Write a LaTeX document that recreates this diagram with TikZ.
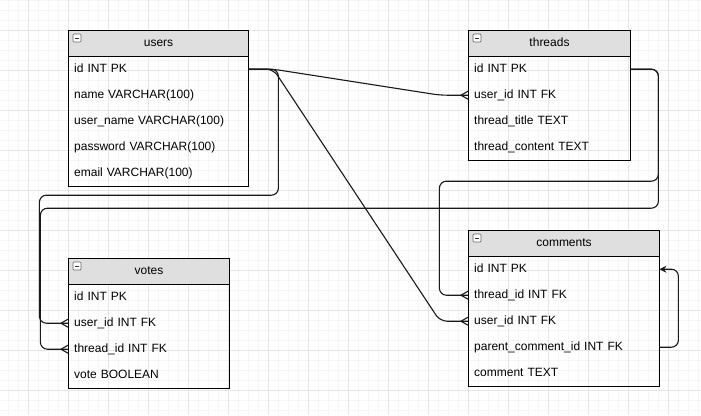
\documentclass[tikz,border=0pt]{standalone}
\usepackage{fontspec}
\setmainfont{Liberation Sans}
\usetikzlibrary{calc,arrows.meta}
\definecolor{hdrgray}{HTML}{DFDFDF}
\definecolor{gridminor}{HTML}{F5F5F5}
\definecolor{gridmajor}{HTML}{E6E6E6}
\tikzset{
  x=1pt, y=-1pt,
  tfont/.style={font=\fontsize{12}{14}\selectfont},
  hdr/.style={tfont, draw=black, line width=1pt, fill=hdrgray, minimum height=26pt,
    inner sep=0pt, anchor=north west, text height=9pt, text depth=3pt},
  rowbox/.style={tfont, minimum height=26pt, inner xsep=6pt, inner ysep=0pt,
    anchor=north west, align=left, text height=9pt, text depth=3pt},
  usersrow/.style={rowbox, text width=168pt},
  threadsrow/.style={rowbox, text width=150pt},
  commentsrow/.style={rowbox, text width=179pt},
  votesrow/.style={rowbox, text width=149pt},
  frame/.style={draw=black, line width=1pt},
  minusicon/.style={draw=black!60, fill=white, rounded corners=1pt, minimum size=8pt,
    inner sep=0pt, line width=0.7pt,
    path picture={\draw[black!80, line width=0.8pt]
      ([xshift=1.8pt]path picture bounding box.west) --
      ([xshift=-1.8pt]path picture bounding box.east);}},
  conn/.style={draw=black!90, line width=1.1pt, rounded corners=7pt},
}
\newcommand\crowat[1]{%
  \draw[conn, rounded corners=0pt] ($(#1.west)+(-7,0)$) -- ($(#1.west)+(0,-4)$)
    ($(#1.west)+(-7,0)$) -- ($(#1.west)+(0,4)$);}
\begin{document}
\begin{tikzpicture}
\useasboundingbox (0,0) rectangle (701,415);
\fill[white] (0,0) rectangle (701,415);
% grid
\foreach \x in {8,18,...,698} \draw[gridminor, line width=0.8pt] (\x,0) -- (\x,415);
\foreach \y in {0,10,...,410} \draw[gridminor, line width=0.8pt] (0,\y) -- (701,\y);
\foreach \x in {28,68,...,668} \draw[gridmajor, line width=0.8pt] (\x,0) -- (\x,415);
\foreach \y in {30,70,...,390} \draw[gridmajor, line width=0.8pt] (0,\y) -- (701,\y);

% users
\node[hdr, minimum width=180pt] (users) at (68,30) {users};
\node[usersrow] (users-id) at (68,56) {id INT PK};
\node[usersrow] (users-name) at (68,82) {name VARCHAR(100)};
\node[usersrow] (users-uname) at (68,108) {user\_name VARCHAR(100)};
\node[usersrow] (users-pw) at (68,134) {password VARCHAR(100)};
\node[usersrow] (users-email) at (68,160) {email VARCHAR(100)};
\draw[frame] (users.north west) rectangle (users-email.south east);
\node[minusicon] (users-ic) at ($(users.north west)+(9,8)$) {};

% threads
\node[hdr, minimum width=162pt] (threads) at (468,30) {threads};
\node[threadsrow] (threads-id) at (468,56) {id INT PK};
\node[threadsrow] (threads-uid) at (468,82) {user\_id INT FK};
\node[threadsrow] (threads-title) at (468,108) {thread\_title TEXT};
\node[threadsrow] (threads-content) at (468,134) {thread\_content TEXT};
\draw[frame] (threads.north west) rectangle (threads-content.south east);
\node[minusicon] (threads-ic) at ($(threads.north west)+(9,8)$) {};

% comments
\node[hdr, minimum width=191pt] (comments) at (468,230) {comments};
\node[commentsrow] (comments-id) at (468,256) {id INT PK};
\node[commentsrow] (comments-tid) at (468,282) {thread\_id INT FK};
\node[commentsrow] (comments-uid) at (468,308) {user\_id INT FK};
\node[commentsrow] (comments-parent) at (468,334) {parent\_comment\_id INT FK};
\node[commentsrow] (comments-text) at (468,360) {comment TEXT};
\draw[frame] (comments.north west) rectangle (comments-text.south east);
\node[minusicon] (comments-ic) at ($(comments.north west)+(9,8)$) {};

% votes
\node[hdr, minimum width=161pt] (votes) at (68,258) {votes};
\node[votesrow] (votes-id) at (68,284) {id INT PK};
\node[votesrow] (votes-uid) at (68,310) {user\_id INT FK};
\node[votesrow] (votes-tid) at (68,336) {thread\_id INT FK};
\node[votesrow] (votes-vote) at (68,362) {vote BOOLEAN};
\draw[frame] (votes.north west) rectangle (votes-vote.south east);
\node[minusicon] (votes-ic) at ($(votes.north west)+(9,8)$) {};

% connectors
\draw[conn] (users-id.east) -- ++(25,0) -- ($(threads-uid.west)+(-28,0)$) -- (threads-uid.west);
\crowat{threads-uid}
\draw[conn] (users-id.east) -- ++(25,0) -- ($(comments-uid.west)+(-28,0)$) -- (comments-uid.west);
\crowat{comments-uid}
\draw[conn] (users-id.east) -- ++(30,0) -- ++(0,126) -- ++(-239,0) |- (votes-uid.west);
\crowat{votes-uid}
\draw[conn] (threads-id.east) -- ++(28,0) -- ++(0,112) -- ++(-219,0) |- (comments-tid.west);
\crowat{comments-tid}
\draw[conn] (threads-id.east) -- ++(28,0) -- ++(0,139) -- ++(-618,0) |- (votes-tid.west);
\crowat{votes-tid}
\draw[conn, -{Stealth[length=7pt,width=7pt]}] (comments-parent.east) -- ++(19,0) |- (comments-id.east);
\end{tikzpicture}
\end{document}
